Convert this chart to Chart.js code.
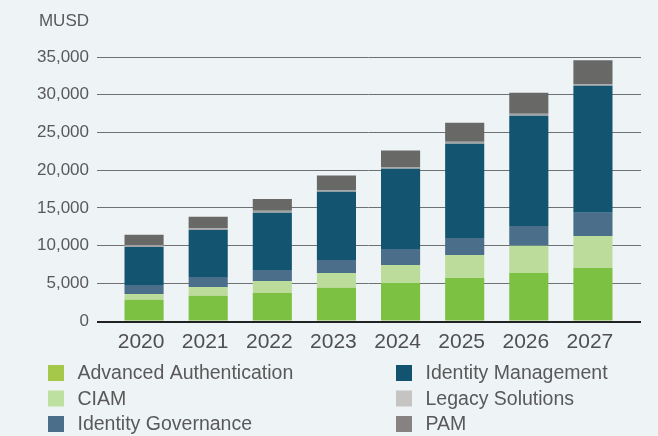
<!DOCTYPE html>
<html>
<head>
<meta charset="utf-8">
<script src="https://cdn.jsdelivr.net/npm/chart.js@4"></script>
<style>
  html, body { margin: 0; padding: 0; background: #eef3f6; }
  canvas { display: block; }
</style>
</head>
<body>
<canvas id="canvas" width="658" height="436"></canvas>
<script>
// chart data (MUSD)
const years = ['2020', '2021', '2022', '2023', '2024', '2025', '2026', '2027'];
const seriesNames = ['Advanced Authentication', 'CIAM', 'Identity Governance', 'Identity Management', 'Legacy Solutions', 'PAM'];
const advancedAuth = [2830, 3360, 3720, 4420, 5040, 5710, 6370, 7040];
const ciam = [750, 1150, 1590, 1950, 2390, 3050, 3590, 4240];
const identityGov = [1200, 1330, 1460, 1730, 2130, 2260, 2650, 3060];
const identityMgmt = [5040, 6240, 7570, 9020, 10620, 12480, 14600, 16850];
const legacy = [270, 220, 260, 180, 160, 260, 270, 200];
const pam = [1330, 1510, 1590, 1990, 2260, 2520, 2790, 3180];
const yTicks = [0, 5000, 10000, 15000, 20000, 25000, 30000, 35000];

const barColors = ['#7cc142', '#bcdc9b', '#4b6f8a', '#135471', '#a3a3a3', '#686866'];
const legendColors = ['#a6c84a', '#bddf9f', '#4b6e8a', '#12546f', '#c5c4c2', '#868281'];
const textColor = '#595959';
const fontFamily = '"Liberation Sans", Arial, Helvetica, sans-serif';

const seriesValues = [advancedAuth, ciam, identityGov, identityMgmt, legacy, pam];

// extra drawing: unit label, zero line and the 2 column legend
const extras = {
  id: 'extras',
  afterDatasetsDraw(chart) {
    const c = chart.ctx;
    const y = chart.scales.y;
    const y2 = chart.scales.y2;
    const y0 = y.getPixelForValue(0) + 1;
    c.save();
    c.strokeStyle = '#222222';
    c.lineWidth = 2;
    c.beginPath();
    c.moveTo(y.right - 15, y0);
    c.lineTo(y2.left + 16, y0);
    c.stroke();
    c.restore();
  },
  afterDraw(chart) {
    const c = chart.ctx;
    c.save();
    c.fillStyle = textColor;
    c.font = '17px ' + fontFamily;
    c.textAlign = 'right';
    c.textBaseline = 'middle';
    c.fillText('MUSD', chart.scales.y.right - 23, 21);

    // legend, filled column by column
    const colX = [48, 396];
    const rowY = [373, 398.5, 424];
    c.font = '19.5px ' + fontFamily;
    c.textAlign = 'left';
    seriesNames.forEach((name, i) => {
      const x = colX[Math.floor(i / 3)];
      const yy = rowY[i % 3];
      c.fillStyle = legendColors[i];
      c.fillRect(x, yy - 8, 16, 16);
      c.fillStyle = textColor;
      c.fillText(name, x + 29.5, yy + 1);
    });
    c.restore();
  }
};

const gridColor = (ctx) => ctx.tick && ctx.tick.value === 0 ? 'rgba(0,0,0,0)' : '#6e7174';

const ctx = document.getElementById('canvas');
new Chart(ctx, {
  type: 'bar',
  data: {
    labels: years,
    datasets: seriesNames.map((name, i) => ({
      label: name,
      data: seriesValues[i],
      backgroundColor: barColors[i],
      borderWidth: 0,
      categoryPercentage: 1,
      barPercentage: 0.61
    }))
  },
  options: {
    responsive: false,
    animation: false,
    devicePixelRatio: 1,
    layout: {
      padding: { left: 0, right: 17, top: 57, bottom: 84 }
    },
    plugins: {
      legend: { display: false },
      tooltip: { enabled: false }
    },
    scales: {
      x: {
        stacked: true,
        grid: { display: false, drawTicks: false },
        border: { display: false },
        ticks: {
          color: '#4f4f4f',
          font: { family: fontFamily, size: 21 },
          padding: 9,
          labelOffset: -3
        },
        afterFit(scale) { scale.height = 31; }
      },
      y: {
        stacked: true,
        min: 0,
        max: 35000,
        afterBuildTicks(scale) { scale.ticks = yTicks.map(v => ({ value: v })); },
        grid: { color: gridColor, lineWidth: 1, tickLength: 15 },
        border: { display: false },
        ticks: {
          color: textColor,
          font: { family: fontFamily, size: 17 },
          padding: 8,
          callback: (v) => v.toLocaleString('en-US')
        },
        afterFit(scale) { scale.width = 112; }
      },
      y2: {
        position: 'right',
        min: 0,
        max: 35000,
        afterBuildTicks(scale) { scale.ticks = yTicks.map(v => ({ value: v })); },
        grid: { color: gridColor, lineWidth: 1, tickLength: 16, drawOnChartArea: false },
        border: { display: false },
        ticks: { display: false },
        afterFit(scale) { scale.width = 16; }
      }
    }
  },
  plugins: [extras]
});
</script>
</body>
</html>
